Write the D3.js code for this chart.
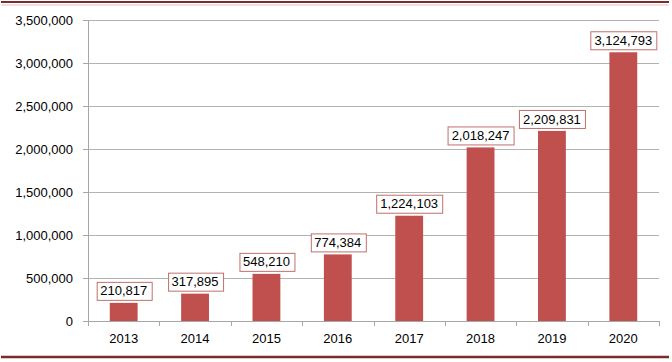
<!DOCTYPE html>
<html>
<head>
<meta charset="utf-8">
<script src="https://cdn.jsdelivr.net/npm/d3@7"></script>
<style>
  body { margin: 0; background: #fff; }
  svg { display: block; font-family: "Liberation Sans", Arial, sans-serif; }
</style>
</head>
<body>
<svg width="672" height="362"></svg>
<script>
var years = ["2013", "2014", "2015", "2016", "2017", "2018", "2019", "2020"];
var values = [210817, 317895, 548210, 774384, 1224103, 2018247, 2209831, 3124793];
var yTicks = [0, 500000, 1000000, 1500000, 2000000, 2500000, 3000000, 3500000];

var margin = { top: 20, right: 13, bottom: 41, left: 88 };
var width = 672 - margin.left - margin.right;
var height = 362 - margin.top - margin.bottom;

var svg = d3.select("svg");

// frame lines top and bottom
svg.append("line").attr("x1", 1).attr("x2", 669).attr("y1", 2).attr("y2", 2)
    .attr("stroke", "#7a2b2b").attr("stroke-width", 2);
svg.append("line").attr("x1", 1).attr("x2", 669).attr("y1", 5).attr("y2", 5)
    .attr("stroke", "#f3dede").attr("stroke-width", 2);
svg.append("line").attr("x1", 1).attr("x2", 669).attr("y1", 357).attr("y2", 357)
    .attr("stroke", "#7a2b2b").attr("stroke-width", 2.5);

var g = svg.append("g")
    .attr("transform", "translate(" + margin.left + "," + margin.top + ")");

var x = d3.scaleBand().domain(years).range([0, width]).padding(0);
var y = d3.scaleLinear().domain([0, 3500000]).range([height, 0]);
var fmt = d3.format(",");

// gridlines
g.selectAll(".grid").data(yTicks.slice(1)).enter().append("line")
    .attr("x1", 0).attr("x2", width)
    .attr("y1", function (d) { return Math.round(y(d)) + 0.5; })
    .attr("y2", function (d) { return Math.round(y(d)) + 0.5; })
    .attr("stroke", "#b3b3b3").attr("stroke-width", 1);

// y axis
var yAxis = g.append("g")
    .call(d3.axisLeft(y).tickValues(yTicks).tickFormat(fmt).tickSize(5).tickPadding(10));
yAxis.select(".domain").attr("stroke", "#a6a6a6");
yAxis.selectAll(".tick line").attr("stroke", "#a6a6a6");
yAxis.selectAll("text").attr("fill", "#000").style("font-size", "13px")
    .style("font-family", "'Liberation Sans', Arial, sans-serif");

// x axis
var xAxis = g.append("g")
    .attr("transform", "translate(0," + height + ")")
    .call(d3.axisBottom(x).tickSize(0).tickPadding(13));
xAxis.select(".domain").attr("stroke", "#a6a6a6");
xAxis.selectAll("text").attr("fill", "#000").style("font-size", "13px")
    .style("font-family", "'Liberation Sans', Arial, sans-serif");
// tick marks between categories
g.selectAll(".xtick").data(d3.range(years.length + 1)).enter().append("line")
    .attr("x1", function (i) { return Math.round(i * x.step()) + 0.5; })
    .attr("x2", function (i) { return Math.round(i * x.step()) + 0.5; })
    .attr("y1", height).attr("y2", height + 5)
    .attr("stroke", "#a6a6a6");

// bars
var barW = x.bandwidth() * 0.39;
g.selectAll(".bar").data(values).enter().append("rect")
    .attr("x", function (d, i) { return x(years[i]) + x.bandwidth() / 2 - barW / 2; })
    .attr("y", function (d) { return y(d); })
    .attr("width", barW)
    .attr("height", function (d) { return height - y(d); })
    .attr("fill", "#c0504d");

// value labels with boxes
var lab = g.selectAll(".lab").data(values).enter().append("g")
    .attr("transform", function (d, i) {
        return "translate(" + (x(years[i]) + x.bandwidth() / 2) + "," + (y(d) - 12) + ")";
    });
lab.append("text")
    .attr("text-anchor", "middle")
    .attr("dy", "0.35em")
    .style("font-size", "13px")
    .attr("fill", "#000")
    .text(function (d) { return fmt(d); });
lab.each(function () {
    var t = d3.select(this).select("text");
    var bb = t.node().getBBox();
    d3.select(this).insert("rect", "text")
        .attr("x", Math.round(bb.x - 4) + 0.5)
        .attr("y", -8.5)
        .attr("width", Math.round(bb.width + 8))
        .attr("height", 18)
        .attr("fill", "#fff")
        .attr("stroke", "#c0706d");
});
</script>
</body>
</html>
